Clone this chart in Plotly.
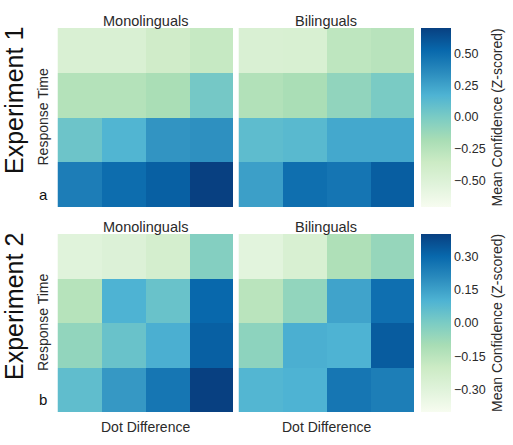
import plotly.graph_objects as go

W, H = 513, 445

dot_diff = ["D1", "D2", "D3", "D4"]
resp_time = ["R1", "R2", "R3", "R4"]  # top -> bottom

exp1_mono = [
    [-0.47, -0.47, -0.39, -0.33],
    [-0.24, -0.24, -0.19, 0.02],
    [0.05, 0.16, 0.31, 0.33],
    [0.42, 0.50, 0.56, 0.70],
]
exp1_bili = [
    [-0.47, -0.46, -0.29, -0.26],
    [-0.23, -0.19, -0.09, 0.00],
    [0.11, 0.13, 0.22, 0.22],
    [0.26, 0.49, 0.46, 0.57],
]
exp2_mono = [
    [-0.30, -0.28, -0.24, -0.02],
    [-0.14, 0.10, 0.04, 0.30],
    [-0.05, 0.04, 0.11, 0.32],
    [0.06, 0.17, 0.26, 0.40],
]
exp2_bili = [
    [-0.31, -0.26, -0.12, -0.06],
    [-0.15, -0.05, 0.14, 0.28],
    [-0.04, 0.11, 0.10, 0.33],
    [0.09, 0.10, 0.26, 0.24],
]

range1 = (-0.71, 0.70)
range2 = (-0.40, 0.40)
ticks1 = [-0.50, -0.25, 0.00, 0.25, 0.50]
ticks2 = [-0.30, -0.15, 0.00, 0.15, 0.30]
panel_titles = ["Monolinguals", "Bilinguals"]
exp_titles = ["Experiment 1", "Experiment 2"]
panel_letters = ["a", "b"]
cbar_title = "Mean Confidence (Z-scored)"
ylab = "Response Time"
xlab = "Dot Difference"

FONT = "Liberation Sans, Arial, sans-serif"
TXT = "#2a2a2a"

def px_x(p):
    return p / W

def px_y(p):
    return 1 - p / H

# pixel geometry
cols = [(57.5, 233), (238.5, 414)]
rows = [(28, 207), (234, 412)]
cb_x = 421

def fmt(v):
    s = f"{abs(v):.2f}"
    return ("\u2212" + s) if v < 0 else s

fig = go.Figure()
data = [[exp1_mono, exp1_bili], [exp2_mono, exp2_bili]]
ranges = [range1, range2]
tickss = [ticks1, ticks2]

ax = 0
for r in range(2):
    for c in range(2):
        ax += 1
        sfx = "" if ax == 1 else str(ax)
        show = c == 1
        tr = go.Heatmap(
            z=data[r][c], x=dot_diff, y=resp_time,
            colorscale="GnBu", zmin=ranges[r][0], zmax=ranges[r][1],
            xaxis="x" + sfx, yaxis="y" + sfx,
            showscale=show, hoverinfo="skip",
        )
        if show:
            ycen = 1 - (rows[r][0] + rows[r][1]) / 2 / H
            tr.colorbar = dict(
                x=px_x(cb_x), xanchor="left", xpad=0, ypad=0,
                y=ycen, yanchor="middle",
                len=rows[r][1] - rows[r][0], lenmode="pixels",
                thickness=30, thicknessmode="pixels",
                outlinewidth=0, ticks="", ticklen=0,
                tickvals=tickss[r], ticktext=[fmt(v) for v in tickss[r]],
                tickfont=dict(family=FONT, size=12.5, color=TXT),
            )
        fig.add_trace(tr)
        fig.layout["xaxis" + sfx] = dict(
            domain=[px_x(cols[c][0]), px_x(cols[c][1])],
            anchor="y" + sfx, showticklabels=False, showgrid=False,
            zeroline=False, ticks="", fixedrange=True,
        )
        fig.layout["yaxis" + sfx] = dict(
            domain=[px_y(rows[r][1]), px_y(rows[r][0])],
            anchor="x" + sfx, showticklabels=False, showgrid=False,
            zeroline=False, ticks="", autorange="reversed",
        )

ann = []
def add(text, x, y, size, angle=0, color=TXT):
    ann.append(dict(text=text, x=px_x(x), y=px_y(y), xref="paper", yref="paper",
                    xanchor="center", yanchor="middle", textangle=angle,
                    showarrow=False, font=dict(size=size, family=FONT, color=color)))

for r in range(2):
    top, bot = rows[r]
    for c in range(2):
        xc = (cols[c][0] + cols[c][1]) / 2
        add(panel_titles[c], xc, top - 7, 14.5)
        if r == 1:
            add(xlab, xc, 427, 14)
    add(ylab, 43, (top + bot) / 2, 14, -90)
    add(exp_titles[r], 14, top + 73, 25, -90, "#111")
    add(panel_letters[r], 43, bot - 13, 15, 0, "#111")
    add(cbar_title, 497, (top + bot) / 2, 14, -90)

fig.update_layout(
    width=W, height=H, margin=dict(l=0, r=0, t=0, b=0),
    paper_bgcolor="white", plot_bgcolor="white",
    annotations=ann, showlegend=False,
    font=dict(family=FONT, color=TXT),
)
fig.write_html("out.html")
